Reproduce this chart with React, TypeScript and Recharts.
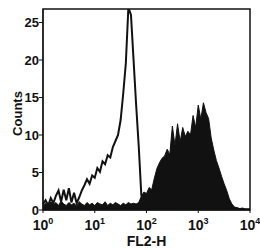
import { ComposedChart, Area, Line, XAxis, YAxis, ReferenceArea } from 'recharts';

// FL2-H histogram, bins every 0.05 decade from 10^0 to 10^4
const binStep = 0.05;

// open (outline) histogram: sharp peak near 10^1.65
const outlineCounts = [
  0.8, 1.3, 0.6, 1.6, 0.9, 1.9, 2.6, 1.1, 2.7, 1.3,
  2.9, 1.0, 2.3, 0.9, 1.7, 2.6, 3.3, 4.1, 3.5, 4.6,
  4.3, 5.6, 5.1, 6.5, 6.1, 7.3, 7.0, 8.4, 9.2, 10.0,
  12.0, 15.5, 19.5, 27.0, 26.0, 20.0, 14.0, 8.5, 2.0, 0.6,
  0.4, 0.3, 0.5, 0.2, 0.4, 0.3, 0.5, 0.2, 0.3, 0.4,
  0.2, 0.3, 0.4, 0.2, 0.3, 0.2, 0.4, 0.3, 0.2, 0.3,
  0.2, 0.3, 0.2, 0.4, 0.2, 0.3, 0.2, 0.3, 0.2, 0.2,
  0.3, 0.2, 0.2, 0.3, 0.2, 0.2, 0.1, 0.2, 0.1, 0.1,
  0.1,
];

// filled (black) histogram: broad peak around 10^3
const filledCounts = [
  0.6, 0.9, 0.5, 1.1, 0.7, 1.0, 0.6, 1.2, 0.8, 0.6,
  1.0, 0.7, 0.9, 0.5, 1.1, 0.8, 0.6, 1.0, 0.7, 0.9,
  0.6, 1.0, 0.8, 0.7, 1.1, 0.6, 0.9, 0.7, 1.0, 0.8,
  0.6, 0.9, 0.7, 1.0, 0.8, 0.9, 0.8, 1.0, 1.8, 2.4,
  2.2, 3.0, 2.7, 4.2, 5.5, 6.3, 6.9, 7.2, 8.1, 7.4,
  11.2, 8.6, 11.5, 9.1, 11.0, 9.8, 10.5, 10.0, 12.6, 11.0,
  14.0, 12.1, 14.3, 13.0, 12.2, 9.6, 8.0, 6.6, 5.6, 4.5,
  3.5, 2.6, 1.5, 0.8, 0.4, 0.3, 0.2, 0.2, 0.1, 0.1,
  0.1,
];

const decadeTicks = [0, 1, 2, 3, 4];
const countTicks = [0, 5, 10, 15, 20, 25];

const font = '"Liberation Sans", Arial, sans-serif';
const ink = '#111';

const rows = outlineCounts.map((v, i) => ({
  logFl2: i * binStep,
  outline: v,
  filled: filledCounts[i],
}));

function DecadeTick({ x, y, payload }: any) {
  return (
    <text x={x} y={y + 15} textAnchor="middle" fontSize={14} fontWeight="bold" fill={ink} fontFamily={font}>
      10
      <tspan dy={-6} fontSize={9}>{payload.value}</tspan>
    </text>
  );
}

function CountsLabel({ viewBox }: any) {
  const cx = viewBox.x + 17;
  const cy = viewBox.y + viewBox.height / 2 + 4;
  return (
    <text
      x={cx}
      y={cy}
      transform={`rotate(-90 ${cx} ${cy})`}
      textAnchor="middle"
      dominantBaseline="central"
      fontSize={13}
      fontWeight="bold"
      fill={ink}
      fontFamily={font}
    >
      Counts
    </text>
  );
}

export default function App() {
  return (
    <div style={{ position: 'absolute', left: 0, top: 0, background: '#fff' }}>
      <ComposedChart
        width={260}
        height={250}
        data={rows}
        margin={{ top: 9, right: 10, left: 0, bottom: 0 }}
      >
        <XAxis
          dataKey="logFl2"
          type="number"
          domain={[0, 4]}
          ticks={decadeTicks}
          tick={<DecadeTick />}
          height={40}
          tickSize={3}
          stroke={ink}
          label={{ value: 'FL2-H', position: 'insideBottom', offset: 4, fontSize: 14, fontWeight: 'bold', fill: ink, fontFamily: font }}
        />
        <YAxis
          type="number"
          domain={[0, 26.8]}
          allowDataOverflow
          ticks={countTicks}
          width={43}
          tickSize={4}
          tickMargin={0}
          stroke={ink}
          tick={{ fontSize: 13, fontWeight: 'bold', fill: ink, fontFamily: font }}
          label={<CountsLabel />}
        />
        <Area
          dataKey="filled"
          type="linear"
          stroke={ink}
          strokeWidth={1}
          fill={ink}
          fillOpacity={1}
          isAnimationActive={false}
        />
        <Line
          dataKey="outline"
          type="linear"
          stroke={ink}
          strokeWidth={2}
          dot={false}
          isAnimationActive={false}
        />
        <ReferenceArea x1={0} x2={4} y1={0} y2={26.8} fill="none" stroke={ink} strokeWidth={1.5} ifOverflow="visible" />
      </ComposedChart>
    </div>
  );
}
